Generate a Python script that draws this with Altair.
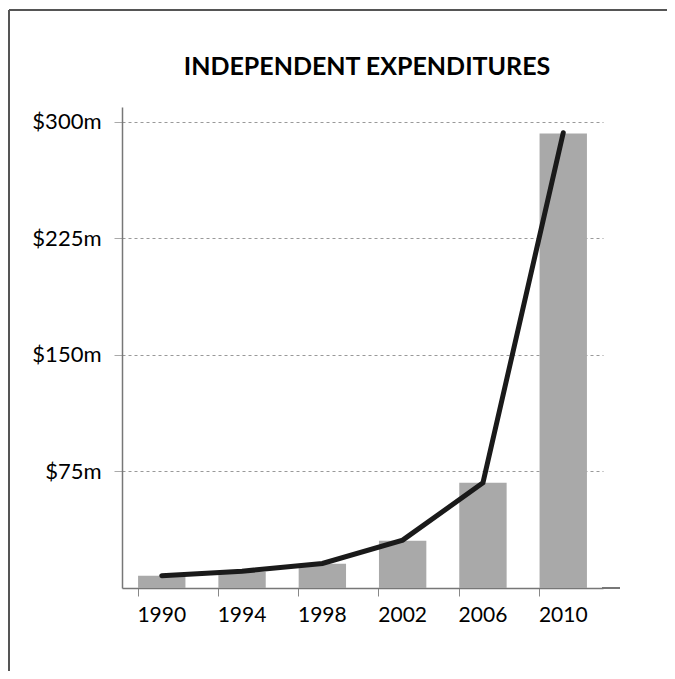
import altair as alt
import pandas as pd

years = ["1990", "1994", "1998", "2002", "2006", "2010"]
bar_values = [7.9, 10.5, 15.6, 30.4, 67.7, 292.6]
line_values = [7.9, 10.8, 15.8, 30.8, 67.7, 293.0]
y_ticks = [75, 150, 225, 300]
title_text = "INDEPENDENT EXPENDITURES"

df = pd.DataFrame({"year": years, "bar": bar_values, "line": line_values})

W, H = 498, 481
FONT = "Lato"

x_enc = alt.X(
    "year:N",
    sort=years,
    scale=alt.Scale(range=[0, 481], paddingInner=0.41, paddingOuter=0.2),
    axis=alt.Axis(
        title=None, labelAngle=0, labelFont=FONT, labelFontSize=21,
        labelColor="#000", labelPadding=8, tickSize=8, tickColor="#888",
        domainColor="#777", domainWidth=1.5, bandPosition=0, grid=False,
    ),
)
y_scale = alt.Scale(domain=[0, 309.6], nice=False, zero=True)
y_axis = alt.Axis(
    title=None, values=y_ticks, labelExpr="'$' + datum.value + 'm'",
    labelFont=FONT, labelFontSize=22, labelColor="#000", labelPadding=13,
    tickSize=8, tickColor="#aaa", domainColor="#777", domainWidth=1.5,
    grid=True, gridDash=[3, 3], gridColor="#999", gridWidth=1,
)

bars = alt.Chart(df).mark_bar(color="#a9a9a9").encode(
    x=x_enc,
    y=alt.Y("bar:Q", scale=y_scale, axis=y_axis),
)
line = alt.Chart(df).mark_line(color="#1a1a1a", strokeWidth=5, strokeCap="round").encode(
    x=alt.X("year:N", sort=years),
    y=alt.Y("line:Q"),
)
axis_ext = alt.Chart(df).mark_rule(color="#777", strokeWidth=1.5).encode(
    x=alt.value(480), x2=alt.value(W), y=alt.value(H)
)
frame_left = alt.Chart(df).mark_rule(color="#555", strokeWidth=2).encode(
    x=alt.value(-113), y=alt.value(-97), y2=alt.value(H + 100)
)
frame_top = alt.Chart(df).mark_rule(color="#555", strokeWidth=2).encode(
    x=alt.value(-113), x2=alt.value(W + 80), y=alt.value(-97)
)
title = alt.Chart(pd.DataFrame({"t": [title_text]})).mark_text(
    font=FONT, fontSize=25, fontWeight="bold", color="#000",
    align="center", baseline="alphabetic",
).encode(text="t:N", x=alt.value(245), y=alt.value(-32))

chart = alt.layer(bars, line, axis_ext, frame_left, frame_top, title).properties(
    width=W, height=H,
    autosize=alt.AutoSizeParams(type="none"),
    padding={"left": 114, "top": 99, "right": 47, "bottom": 83},
).configure(background="white").configure_view(stroke=None)

chart.save("out.html", embed_options={"renderer": "svg", "actions": False})
